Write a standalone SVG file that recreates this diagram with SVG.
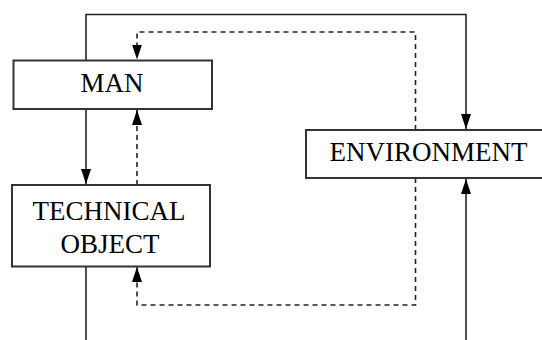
<svg xmlns="http://www.w3.org/2000/svg" width="542" height="340" viewBox="0 0 542 340">
<defs>
<marker id="ah" viewBox="0 0 15 10" refX="15" refY="5" markerWidth="15" markerHeight="10" markerUnits="userSpaceOnUse" orient="auto">
<path d="M0,0 L15,5 L0,10 Z" fill="#000"/>
</marker>
<style>
.box{fill:#fff;stroke:#333;stroke-width:2}
.lbl{font-family:"Liberation Serif","Times New Roman",serif;font-size:27px;fill:#000;text-anchor:middle}
.ln{fill:none;stroke:#222;stroke-width:1.6}
.dash{stroke-dasharray:5 4}
</style>
</defs>
<rect width="542" height="340" fill="#fff"/>
<g id="connectors">
<path class="ln" d="M86,60.5 V14.5 H466 V129" marker-end="url(#ah)"/>
<path class="ln dash" d="M415.5,130 V32 H137 V59.5" marker-end="url(#ah)"/>
<path class="ln" d="M86,109 V184" marker-end="url(#ah)"/>
<path class="ln dash" d="M137,185 V110" marker-end="url(#ah)"/>
<path class="ln dash" d="M415.5,178 V305 H137 V267" marker-end="url(#ah)"/>
<path class="ln" d="M86,266 V340"/>
<path class="ln" d="M466,340 V179" marker-end="url(#ah)"/>
</g>
<g id="man">
<rect class="box" x="13.5" y="60.5" width="198.5" height="48.5"/>
<text class="lbl" x="112" y="92">MAN</text>
</g>
<g id="technical-object">
<rect class="box" x="12" y="185" width="198" height="81.5"/>
<text class="lbl" x="109" y="219.5">TECHNICAL</text>
<text class="lbl" x="110" y="252.5">OBJECT</text>
</g>
<g id="environment">
<rect class="box" x="306" y="130" width="244" height="48"/>
<text class="lbl" x="428.5" y="161">ENVIRONMENT</text>
</g>
</svg>
